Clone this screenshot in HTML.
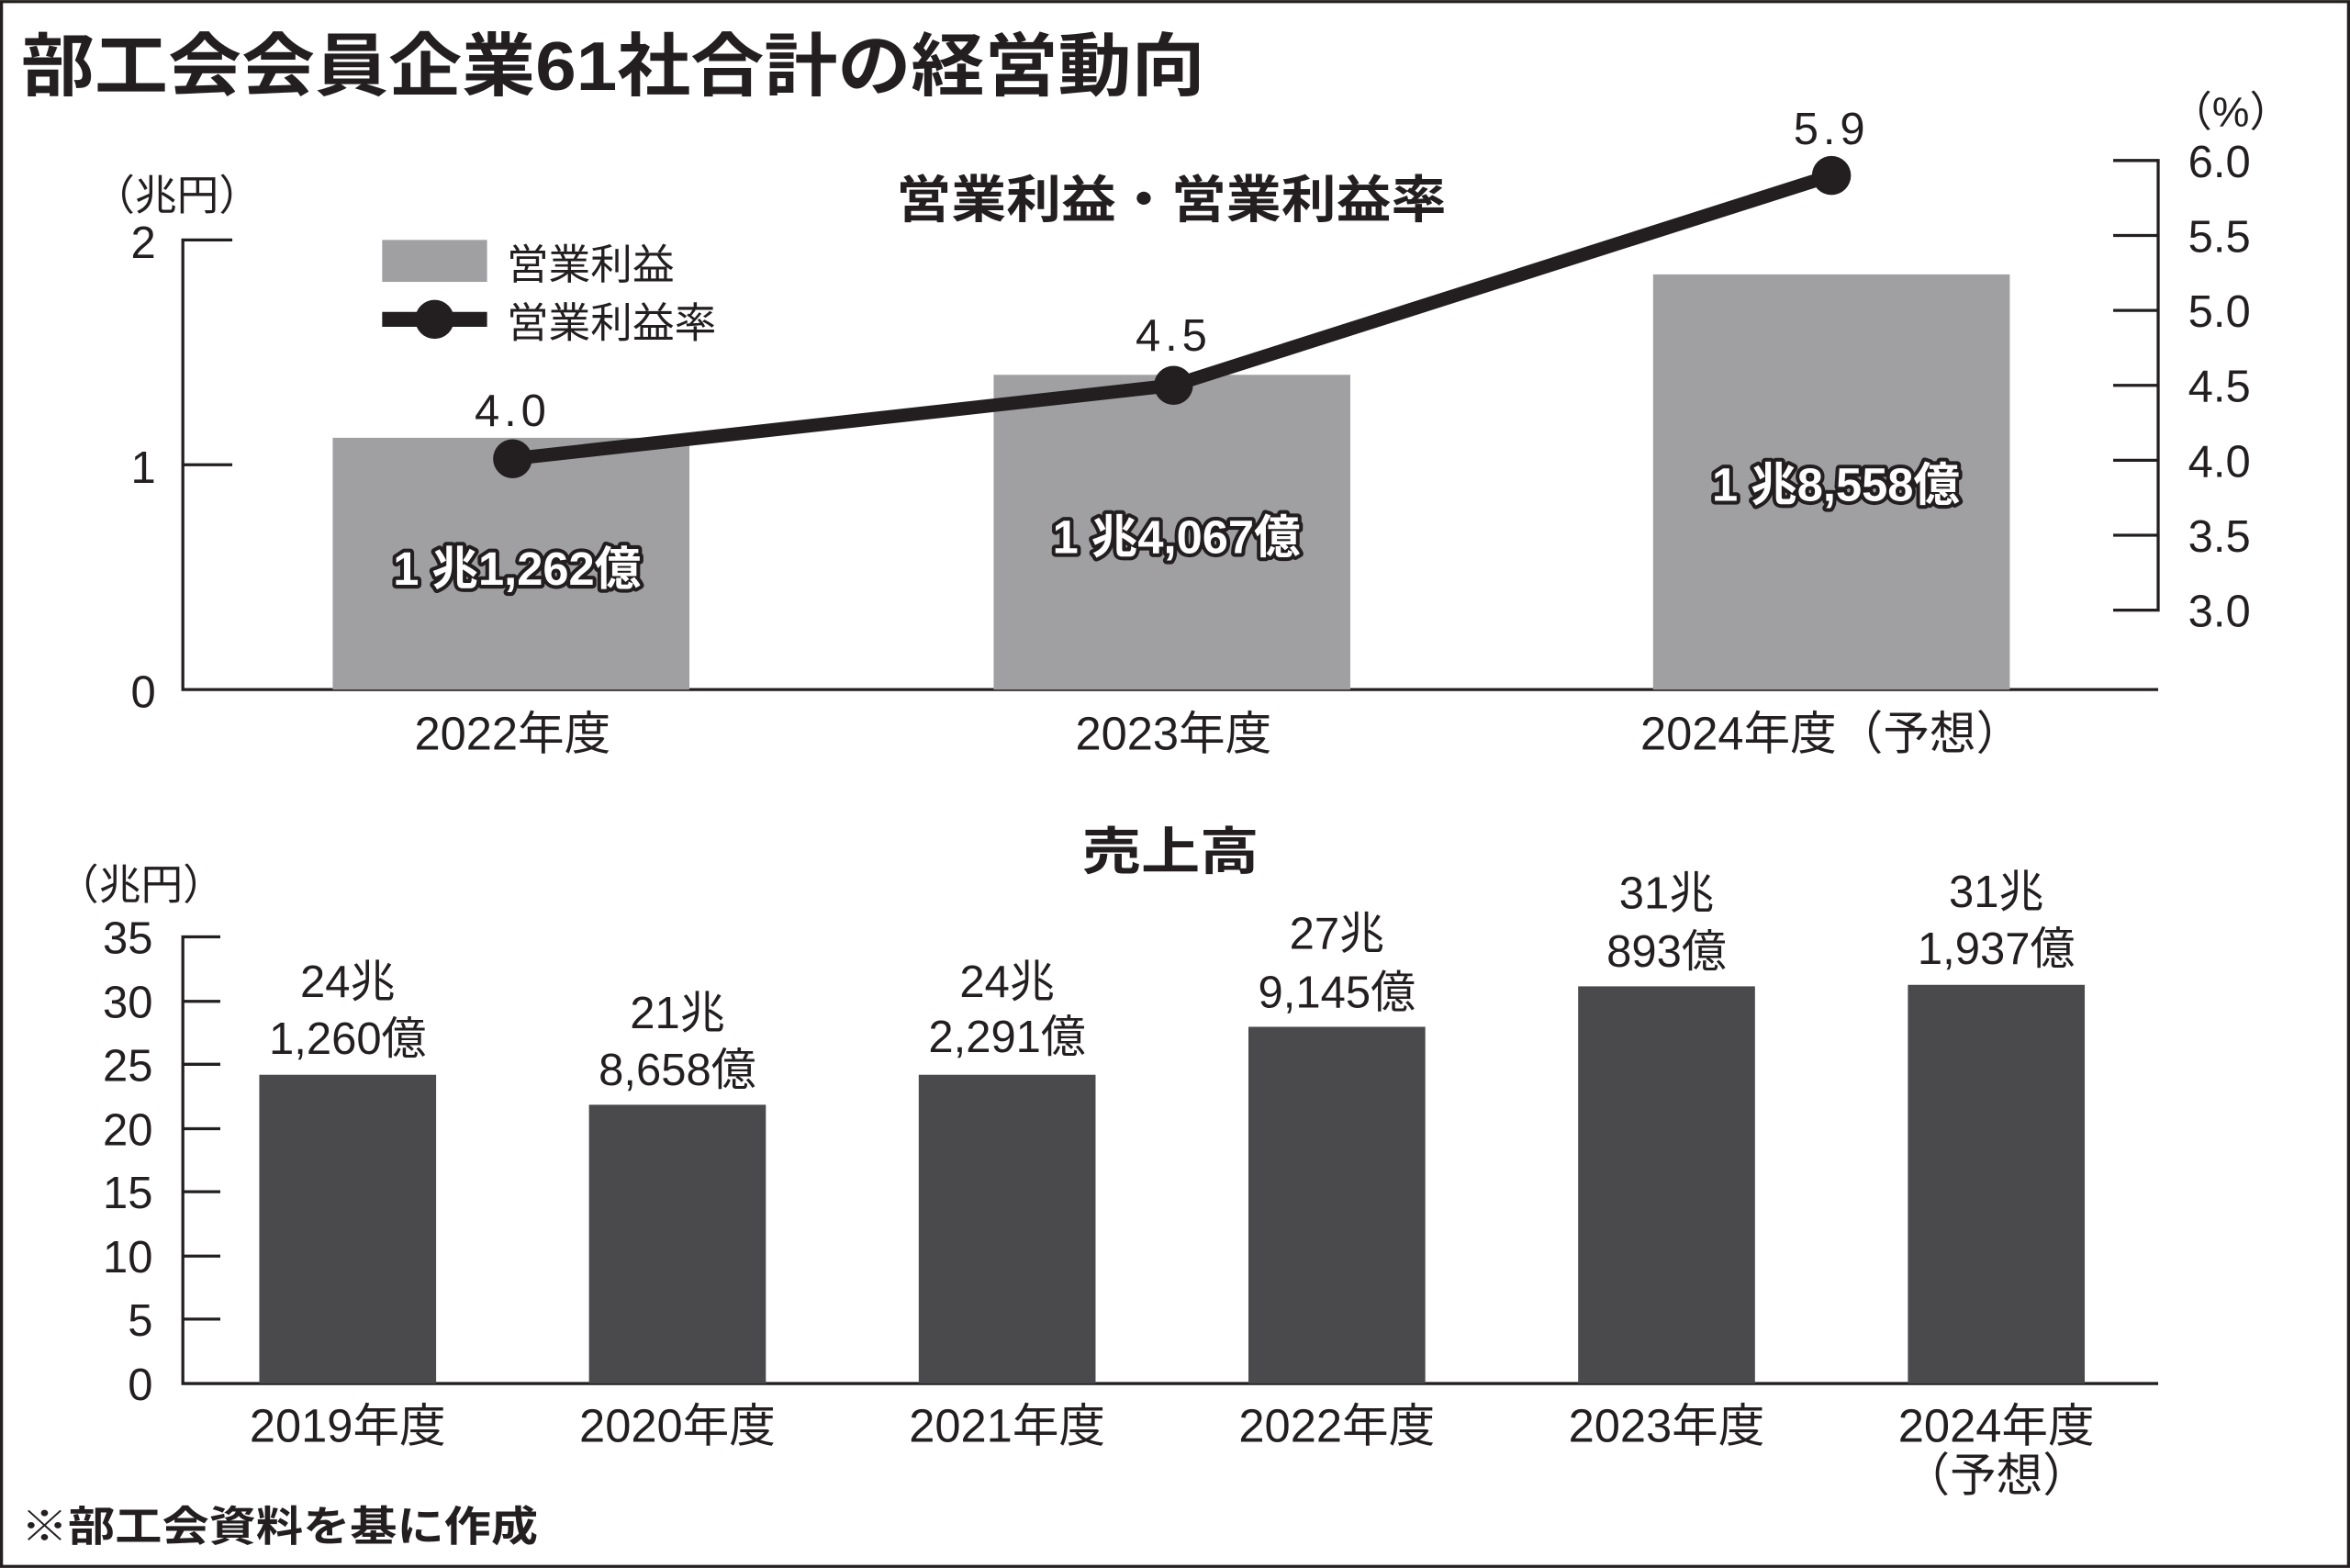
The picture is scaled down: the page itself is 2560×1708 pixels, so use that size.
<!DOCTYPE html>
<html><head><meta charset="utf-8"><style>
html,body{margin:0;padding:0;background:#fff;}
svg{display:block;}
text{font-family:"Liberation Sans Narrow","Liberation Sans","Noto Sans CJK JP",sans-serif;fill:#231f20;}
.b{font-weight:bold;}
.lbl{fill:#fff;stroke:#231f20;stroke-width:5;paint-order:stroke;stroke-linejoin:round;font-weight:bold;}
</style></head><body>
<svg width="2560" height="1708" viewBox="0 0 1568 1046" xmlns="http://www.w3.org/2000/svg">
<rect x="1" y="1" width="1566" height="1044" fill="#fff" stroke="#231f20" stroke-width="2"/>
<text x="14" y="60" font-size="46" class="b" font-family="Noto Sans CJK JP" textLength="790" lengthAdjust="spacingAndGlyphs">部工会会員企業61社合計の経営動向</text>

<!-- top chart -->
<text x="598" y="145" font-size="34" class="b" font-family="Noto Sans CJK JP" textLength="367" lengthAdjust="spacingAndGlyphs">営業利益・営業利益率</text>
<text x="62" y="140" font-size="28">（兆円）</text>
<text x="1448" y="84" font-size="28">（%）</text>
<g stroke="#231f20" stroke-width="2" fill="none">
<path d="M155 160H122V460H1440"/>
<path d="M122 310H155"/>
<path d="M1410 107H1440V407H1410"/>
<path d="M1410 157H1440M1410 207H1440M1410 257H1440M1410 307H1440M1410 357H1440"/>
</g>
<g font-size="30" text-anchor="end">
<text x="104" y="172">2</text><text x="104" y="322">1</text><text x="104" y="472">0</text>
</g>
<g font-size="30" text-anchor="start">
<text x="1460" y="118">6.0</text><text x="1460" y="168">5.5</text><text x="1460" y="218">5.0</text>
<text x="1460" y="268">4.5</text><text x="1460" y="318">4.0</text><text x="1460" y="368">3.5</text><text x="1460" y="418">3.0</text>
</g>
<g fill="#a0a0a3">
<rect x="222" y="292" width="238" height="168"/>
<rect x="663" y="250" width="238" height="210"/>
<rect x="1103" y="183" width="238" height="277"/>
<rect x="255" y="160" width="70" height="28"/>
</g>
<path d="M255 213H325" stroke="#231f20" stroke-width="10"/>
<circle cx="290" cy="213" r="13" fill="#231f20"/>
<text x="338" y="186" font-size="28" font-family="Noto Sans CJK JP">営業利益</text>
<text x="338" y="225" font-size="28" font-family="Noto Sans CJK JP">営業利益率</text>
<polyline points="342,306 783,257 1222,117" fill="none" stroke="#231f20" stroke-width="9"/>
<circle cx="342" cy="306" r="13" fill="#231f20"/><circle cx="783" cy="257" r="13" fill="#231f20"/><circle cx="1222" cy="117" r="13" fill="#231f20"/>
<g font-size="30" text-anchor="middle" letter-spacing="3">
<text x="342" y="284">4.0</text><text x="783" y="234">4.5</text><text x="1222" y="96">5.9</text>
</g>
<g font-size="31" text-anchor="middle">
<text class="lbl" x="345" y="390">1 兆1,262億</text>
<text class="lbl" x="785" y="369">1 兆4,067億</text>
<text class="lbl" x="1225" y="334">1 兆8,558億</text>
</g>
<g font-size="31" text-anchor="middle">
<text x="342" y="500">2022年度</text><text x="783" y="500">2023年度</text><text x="1222" y="500">2024年度（予想）</text>
</g>

<!-- bottom chart -->
<text x="722" y="580" font-size="34" class="b" font-family="Noto Sans CJK JP" textLength="118" lengthAdjust="spacingAndGlyphs">売上高</text>
<text x="38" y="600" font-size="28">（兆円）</text>
<g stroke="#231f20" stroke-width="2" fill="none">
<path d="M147 625H122V923H1440"/>
<path d="M122 668H147M122 710H147M122 753H147M122 795H147M122 838H147M122 880H147"/>
</g>
<g font-size="30" text-anchor="end">
<text x="102" y="636">35</text><text x="102" y="679">30</text><text x="102" y="721">25</text><text x="102" y="764">20</text>
<text x="102" y="806">15</text><text x="102" y="849">10</text><text x="102" y="891">5</text><text x="102" y="934">0</text>
</g>
<g fill="#4a494b">
<rect x="173" y="717" width="118" height="206"/>
<rect x="393" y="737" width="118" height="186"/>
<rect x="613" y="717" width="118" height="206"/>
<rect x="833" y="685" width="118" height="238"/>
<rect x="1053" y="658" width="118" height="265"/>
<rect x="1273" y="657" width="118" height="266"/>
</g>
<g font-size="30" text-anchor="middle">
<text x="232" y="665">24兆</text><text x="232" y="703">1,260億</text>
<text x="452" y="686">21兆</text><text x="452" y="724">8,658億</text>
<text x="672" y="665">24兆</text><text x="672" y="702">2,291億</text>
<text x="892" y="633">27兆</text><text x="892" y="672">9,145億</text>
<text x="1112" y="606">31兆</text><text x="1112" y="645">893億</text>
<text x="1332" y="605">31兆</text><text x="1332" y="643">1,937億</text>
</g>
<g font-size="31" text-anchor="middle">
<text x="232" y="962">2019年度</text><text x="452" y="962">2020年度</text><text x="672" y="962">2021年度</text>
<text x="892" y="962">2022年度</text><text x="1112" y="962">2023年度</text><text x="1332" y="962">2024年度</text>
<text x="1332" y="995">（予想）</text>
</g>
<text x="14" y="1028" font-size="28" class="b" font-family="Noto Sans CJK JP" textLength="345" lengthAdjust="spacingAndGlyphs">※部工会資料を基に作成</text>
</svg>
</body></html>
